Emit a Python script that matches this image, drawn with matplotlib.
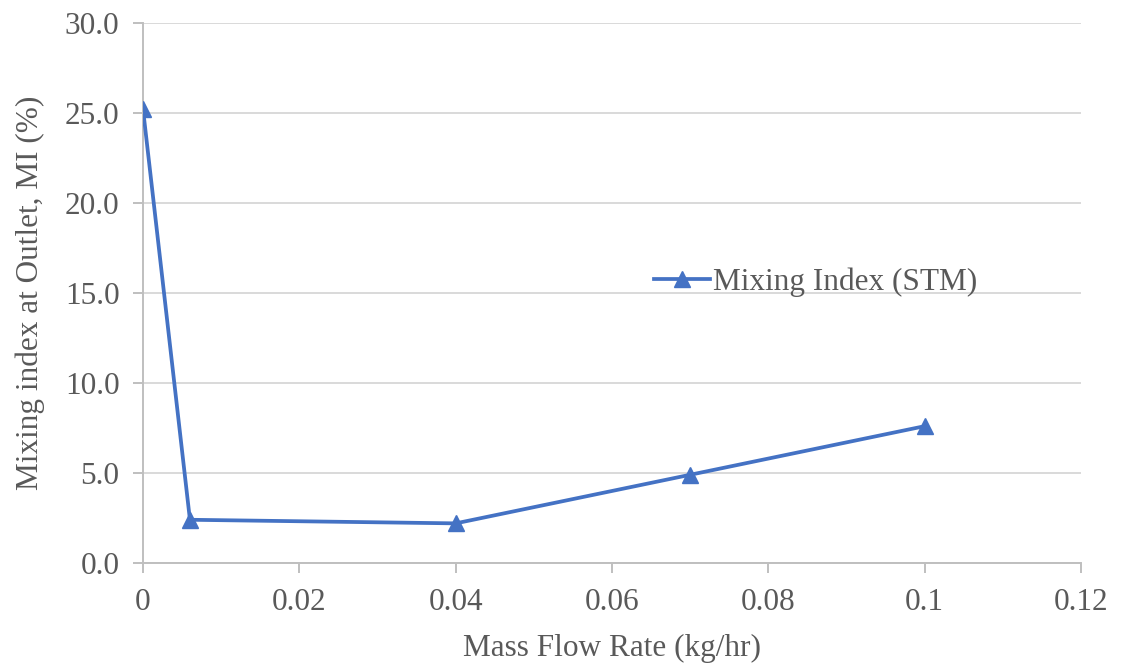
import matplotlib
matplotlib.use('Agg')
import matplotlib.pyplot as plt
from matplotlib.ticker import FuncFormatter

# mixing index vs. mass flow rate
flow_rate = [0, 0.006, 0.04, 0.07, 0.1]
mixing_index = [25.2, 2.4, 2.2, 4.9, 7.6]
x_ticks = [0, 0.02, 0.04, 0.06, 0.08, 0.1, 0.12]
x_tick_labels = ['0', '0.02', '0.04', '0.06', '0.08', '0.1', '0.12']
y_ticks = [0, 5, 10, 15, 20, 25, 30]

plt.rcParams['font.family'] = ['Liberation Serif', 'DejaVu Serif']

text_color = '#595959'
axis_color = '#BFBFBF'
grid_color = '#D9D9D9'
line_color = '#4472C4'
fs = 22.5

fig = plt.figure(figsize=(11.21, 6.66), dpi=100)
ax = fig.add_axes([0.1276, 0.1547, 0.8367, 0.8108])

ax.plot(flow_rate, mixing_index, color=line_color, linewidth=2.7,
        marker='^', markersize=11, label='Mixing Index (STM)', zorder=3)

ax.set_xlim(0, 0.12)
ax.set_ylim(0, 30)
ax.set_xticks(x_ticks)
ax.set_xticklabels(x_tick_labels)
ax.set_yticks(y_ticks)
ax.yaxis.set_major_formatter(FuncFormatter(lambda v, p: '%.1f' % v))

ax.grid(axis='y', color=grid_color, linewidth=1.4, zorder=0)
ax.set_axisbelow(True)
for side in ['top', 'right']:
    ax.spines[side].set_visible(False)
for side in ['left', 'bottom']:
    ax.spines[side].set_color(axis_color)
    ax.spines[side].set_linewidth(1.4)

ax.tick_params(axis='both', colors=axis_color, labelcolor=text_color,
               labelsize=fs, length=7, width=1.4, direction='out')
ax.tick_params(axis='x', pad=11)
ax.tick_params(axis='y', pad=10)

ax.set_xlabel('Mass Flow Rate (kg/hr)', fontsize=fs, color=text_color, labelpad=12)
ax.set_ylabel('Mixing index at Outlet, MI (%)', fontsize=fs, color=text_color, labelpad=14)

leg = ax.legend(loc='center', bbox_to_anchor=(0.717, 0.52), frameon=False,
                fontsize=fs, handlelength=1.8, handletextpad=0.1, borderpad=0)
for t in leg.get_texts():
    t.set_color(text_color)

fig.savefig('out.png', dpi=100)
